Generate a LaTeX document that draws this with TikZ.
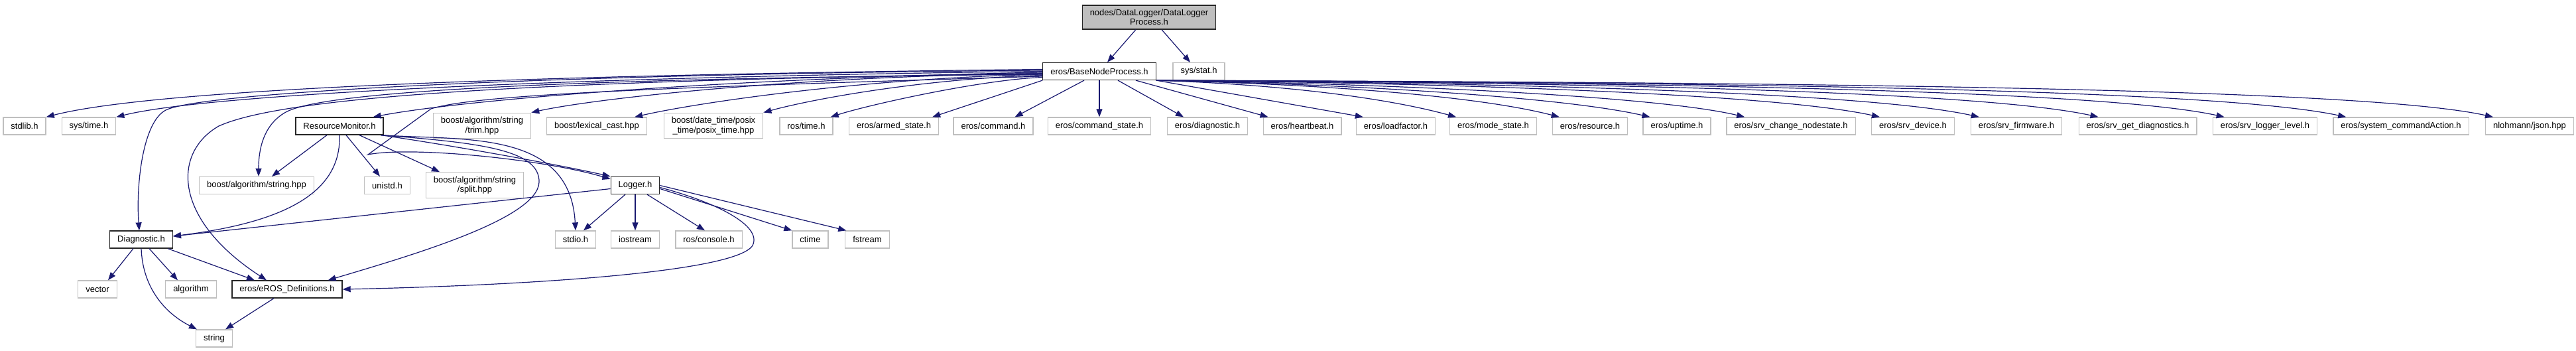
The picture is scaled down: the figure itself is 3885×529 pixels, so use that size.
\documentclass[tikz,border=0pt]{standalone}
\usepackage{fontspec}
\setmainfont{Liberation Sans}
\usetikzlibrary{arrows.meta}

\definecolor{depblue}{RGB}{25,25,112}
\definecolor{extgray}{RGB}{191,191,191}

\begin{document}
\begin{tikzpicture}[
  x=1pt, y=-1pt,
  font=\fontsize{13}{14.5}\selectfont,
  hdr/.style={draw=extgray, line width=1.3pt, fill=white, align=center,
    inner xsep=11.5pt, inner ysep=6pt, minimum height=26pt},
  doc/.style={hdr, draw=black!85},
  root/.style={doc, fill=extgray},
  dep/.style={-{Triangle[length=12pt, width=9pt]}, line width=1.2pt, draw=depblue}
]
\useasboundingbox (0,0) rectangle (3885,529);

% the file itself and what it includes directly
\node[root] (dlp) at (1733,26) {nodes/DataLogger/DataLogger\\Process.h};
\node[doc] (bnp) at (1658,107.5) {eros/BaseNodeProcess.h};
\node[hdr] (sysstat) at (1808,107.5) {sys/stat.h};

% headers pulled in by BaseNodeProcess.h
\node[hdr] (stdlib) at (37,190) {stdlib.h};
\node[hdr] (systime) at (134,190) {sys/time.h};
\node[doc] (resmon) at (512,190) {ResourceMonitor.h};
\node[hdr] (trim) at (727,189.5) {boost/algorithm/string\\/trim.hpp};
\node[hdr] (lexcast) at (900,190) {boost/lexical\_cast.hpp};
\node[hdr] (posix) at (1076,189.5) {boost/date\_time/posix\\\_time/posix\_time.hpp};
\node[hdr] (rostime) at (1216,190) {ros/time.h};
\node[hdr] (armed) at (1348,190) {eros/armed\_state.h};
\node[hdr] (command) at (1498,190) {eros/command.h};
\node[hdr] (cmdstate) at (1658,190) {eros/command\_state.h};
\node[hdr] (diagmsg) at (1821,190) {eros/diagnostic.h};
\node[hdr] (heartbeat) at (1964,190) {eros/heartbeat.h};
\node[hdr] (loadfactor) at (2105,190) {eros/loadfactor.h};
\node[hdr] (modestate) at (2252,190) {eros/mode\_state.h};
\node[hdr] (resource) at (2398,190) {eros/resource.h};
\node[hdr] (uptime) at (2529,190) {eros/uptime.h};
\node[hdr] (chgstate) at (2701,190) {eros/srv\_change\_nodestate.h};
\node[hdr] (device) at (2885,190) {eros/srv\_device.h};
\node[hdr] (firmware) at (3041,190) {eros/srv\_firmware.h};
\node[hdr] (getdiag) at (3224,190) {eros/srv\_get\_diagnostics.h};
\node[hdr] (loglevel) at (3416,190) {eros/srv\_logger\_level.h};
\node[hdr] (syscmd) at (3621,190) {eros/system\_commandAction.h};
\node[hdr] (json) at (3815,190) {nlohmann/json.hpp};

% ResourceMonitor.h and Logger.h level
\node[hdr] (strhpp) at (387,279.5) {boost/algorithm/string.hpp};
\node[hdr] (unistd) at (584,279.5) {unistd.h};
\node[hdr] (split) at (716,279) {boost/algorithm/string\\/split.hpp};
\node[doc] (logger) at (958,279.5) {Logger.h};

\node[doc] (diag) at (213,361) {Diagnostic.h};
\node[hdr] (stdio) at (868,361) {stdio.h};
\node[hdr] (iostream) at (958,361) {iostream};
\node[hdr] (console) at (1069,361) {ros/console.h};
\node[hdr] (ctime) at (1222,361) {ctime};
\node[hdr] (fstream) at (1308,361) {fstream};

\node[hdr] (vector) at (147,436) {vector};
\node[hdr] (algorithm) at (288,436) {algorithm};
\node[doc] (erosdef) at (433,436) {eros/eROS\_Definitions.h};
\node[hdr] (string) at (323,510) {string};

% top file
\draw[dep] ([xshift=-20pt]dlp.south) -- ([xshift=12pt]bnp.north);
\draw[dep] ([xshift=19pt]dlp.south) -- ([xshift=-13pt]sysstat.north);

% BaseNodeProcess.h, left half
\draw[dep] (bnp.178) .. controls (900,112) and (250,130) .. (stdlib.north east);
\draw[dep] (bnp.180) .. controls (950,115) and (330,138) .. (systime.north east);
\draw[dep] (bnp.181) .. controls (1100,118) and (700,150) .. ([xshift=-16pt]resmon.north east);
\draw[dep] (bnp.182) .. controls (1200,115) and (900,148) .. (trim.north east);
\draw[dep] (bnp.183) .. controls (1300,118) and (1050,155) .. ([xshift=-19pt]lexcast.north east);
\draw[dep] (bnp.184) .. controls (1400,118) and (1230,148) .. (posix.north east);
\draw[dep] (bnp.186) .. controls (1480,120) and (1310,158) .. ([xshift=-4pt]rostime.north east);
\draw[dep] (bnp.south west) -- ([xshift=-10pt]armed.north east);
\draw[dep] ([xshift=-23pt]bnp.south) -- ([xshift=-28pt]command.north east);
\draw[dep] (bnp.south) -- (cmdstate.north);
\draw[dep] ([xshift=28pt]bnp.south) -- ([xshift=-36pt]diagmsg.north);
\draw[dep] ([xshift=55pt]bnp.south) -- ([xshift=8pt]heartbeat.north west);

% BaseNodeProcess.h, right half
\draw[dep] (bnp.south east) -- ([xshift=11pt]loadfactor.north west);
\draw[dep] (bnp.south east) .. controls (1950,128) and (2100,150) .. ([xshift=10pt]modestate.north west);
\draw[dep] (bnp.south east) .. controls (2000,127) and (2230,145) .. ([xshift=11pt]resource.north west);
\draw[dep] (bnp.south east) .. controls (2050,127) and (2360,147) .. ([xshift=11pt]uptime.north west);
\draw[dep] (bnp.south east) .. controls (2100,126) and (2500,145) .. ([xshift=28pt]chgstate.north west);
\draw[dep] (bnp.south east) .. controls (2200,125) and (2680,142) .. ([xshift=13pt]device.north west);
\draw[dep] (bnp.south east) .. controls (2300,125) and (2820,140) .. ([xshift=13pt]firmware.north west);
\draw[dep] (bnp.south east) .. controls (2400,124) and (2990,138) .. ([xshift=30pt]getdiag.north west);
\draw[dep] (bnp.south east) .. controls (2500,124) and (3170,136) .. ([xshift=18pt]loglevel.north west);
\draw[dep] (bnp.south east) .. controls (2600,124) and (3340,134) .. ([xshift=20pt]syscmd.north west);
\draw[dep] (bnp.south east) .. controls (2700,124) and (3560,132) .. ([xshift=12pt]json.north west);

% BaseNodeProcess.h, the long ones going down
\draw[dep] (bnp.179) .. controls (800,112) and (300,140) .. (250,166)
  .. controls (215,184) and (205,280) .. ([xshift=-3pt]diag.north);
\draw[dep] (bnp.183) .. controls (900,118) and (500,135) .. (433,168)
  .. controls (400,185) and (390,220) .. ([xshift=3pt]strhpp.north);
\draw[dep] (bnp.182) .. controls (800,122) and (430,145) .. (330,190)
  .. controls (260,230) and (260,330) .. ([xshift=-31pt]erosdef.north);
\draw[dep] (bnp.185) .. controls (1000,132) and (720,142) .. (650,164) -- (555,233)
  .. controls (620,220) and (820,240) .. ([yshift=-4pt]logger.north west);

% ResourceMonitor.h
\draw[dep] ([xshift=-19pt]resmon.south) -- ([xshift=23pt]strhpp.north);
\draw[dep] ([xshift=10pt]resmon.south) -- ([xshift=-11pt]unistd.north);
\draw[dep] ([xshift=30pt]resmon.south) -- ([xshift=-53pt]split.north);
\draw[dep] (resmon.south) .. controls (515,290) and (430,335) .. ([yshift=5pt]diag.east);
\draw[dep] ([xshift=-4pt]resmon.south east) .. controls (700,222) and (850,250) .. (logger.north west);
\draw[dep] ([xshift=-4pt]resmon.south east) .. controls (700,212) and (860,195) .. (stdio.north);
\draw[dep] ([xshift=-4pt]resmon.south east) .. controls (720,215) and (815,225) .. (813,275)
  .. controls (810,330) and (620,385) .. ([xshift=-22pt]erosdef.north east);

% Logger.h
\draw[dep] ([yshift=-5pt]logger.west) -- ([yshift=5pt]diag.east);
\draw[dep] ([xshift=-15pt]logger.south) -- ([xshift=12pt]stdio.north);
\draw[dep] (logger.south) -- (iostream.north);
\draw[dep] ([xshift=18pt]logger.south) -- ([xshift=-6pt]console.north);
\draw[dep] ([yshift=-5pt]logger.east) -- (ctime.north west);
\draw[dep] (logger.east) -- ([xshift=2pt]fstream.north west);
\draw[dep] ([yshift=-3pt]logger.east) .. controls (1080,305) and (1150,340) .. (1135,370)
  .. controls (1110,410) and (800,430) .. (erosdef.east);

% Diagnostic.h and eROS_Definitions.h
\draw[dep] ([xshift=-12pt]diag.south) -- ([xshift=16pt]vector.north);
\draw[dep] ([xshift=12pt]diag.south) -- ([xshift=-20pt]algorithm.north);
\draw[dep] ([xshift=40pt]diag.south) -- ([xshift=-49pt]erosdef.north);
\draw[dep] (diag.south) .. controls (215,430) and (245,470) .. ([xshift=2pt]string.north west);
\draw[dep] ([xshift=-20pt]erosdef.south) -- ([xshift=17pt]string.north);

\end{tikzpicture}
\end{document}
